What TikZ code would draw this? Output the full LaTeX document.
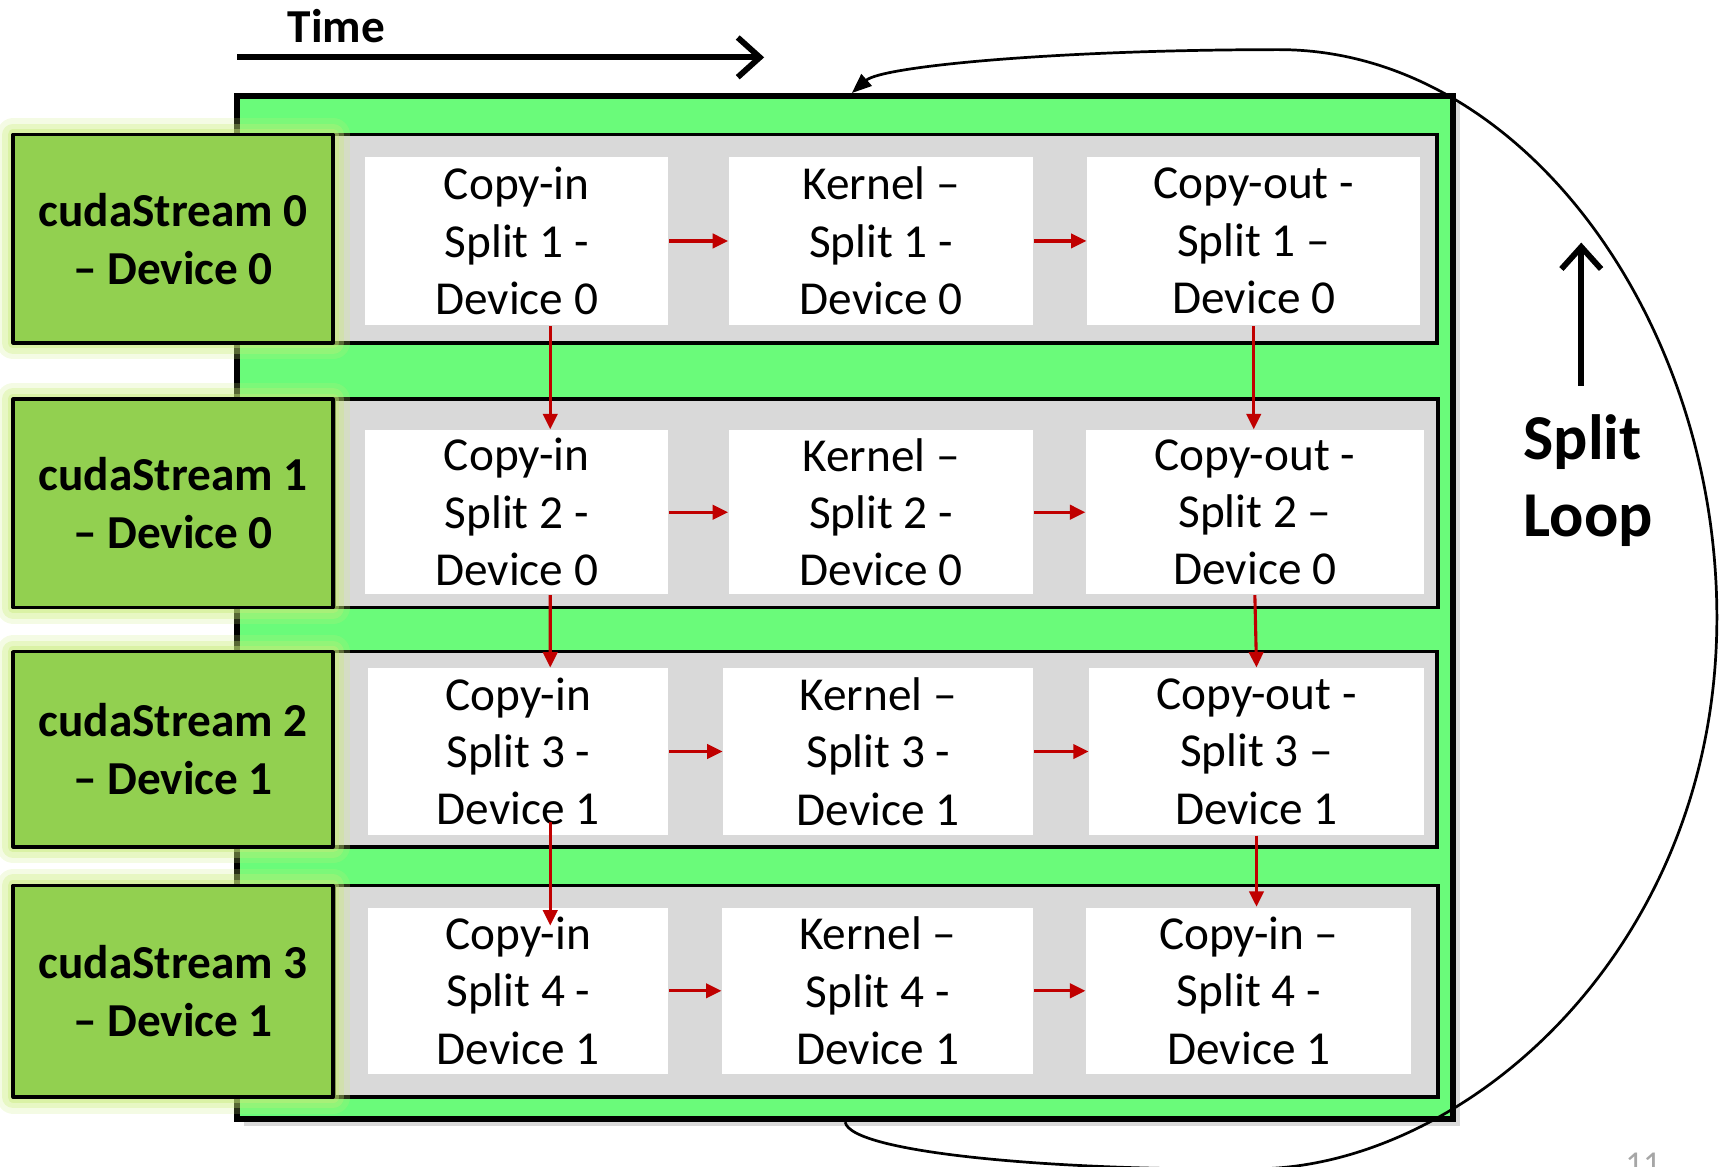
\documentclass[tikz,border=0pt]{standalone}
\usepackage{fontspec}
\setmainfont{Carlito}
\usepackage{tikz}
\usetikzlibrary{arrows.meta,positioning,shadows}
\definecolor{framegreen}{RGB}{106,251,122}
\definecolor{streamgreen}{RGB}{146,208,80}
\definecolor{glowgreen}{RGB}{200,236,120}
\definecolor{lanegray}{RGB}{217,217,217}
\definecolor{deparrow}{RGB}{192,0,0}

\begin{document}
\begin{tikzpicture}[
  frame/.style={draw, line width=1.5pt, fill=framegreen, minimum width=11.03cm, minimum height=9.28cm, inner sep=0pt,
    drop shadow={shadow xshift=0.6mm, shadow yshift=-0.6mm, opacity=0.3}},
  lane/.style={draw, line width=0.9pt, fill=lanegray, minimum width=10.01cm, inner sep=0pt},
  stream/.style={draw, line width=0.9pt, fill=streamgreen, minimum width=2.90cm, inner sep=0pt, align=center,
    font=\fontsize{12.2}{15}\selectfont\bfseries, line join=round,
    preaction={draw=glowgreen, line width=3.0mm, opacity=0.2},
    preaction={draw=glowgreen, line width=2.0mm, opacity=0.3},
    preaction={draw=glowgreen, line width=1.0mm, opacity=0.4}},
  task/.style={fill=white, inner sep=0pt, align=center, font=\fontsize{12.2}{14.8}\selectfont},
  dep/.style={-{Triangle[length=1.4mm, width=1.3mm]}, deparrow, line width=0.8pt},
  bigarrow/.style={-{Straight Barb[length=2mm, width=3.6mm]}, line width=1.5pt},
]
  \useasboundingbox (0,0) rectangle (15.68,-10.58);

  \node[frame] (frame) at (7.665,-5.51) {};

  \node[lane, minimum height=1.89cm] (lane0) at (8.025,-2.165) {};
  \node[lane, minimum height=1.89cm] (lane1) at (8.035,-4.565) {};
  \node[lane, minimum height=1.77cm] (lane2) at (8.025,-6.795) {};
  \node[lane, minimum height=1.92cm] (lane3) at (8.035,-8.99) {};

  \node[task, minimum width=2.75cm, minimum height=1.53cm] (in0) at (4.685,-2.185) {Copy-in\\Split 1 -\\Device 0};
  \node[task, minimum width=2.76cm, minimum height=1.53cm] (ker0) at (7.99,-2.185) {Kernel –\\Split 1 -\\Device 0};
  \node[task, minimum width=3.02cm, minimum height=1.53cm] (out0) at (11.37,-2.185) {Copy-out -\\Split 1 –\\Device 0};

  \node[task, minimum width=2.75cm, minimum height=1.49cm] (in1) at (4.685,-4.645) {Copy-in\\Split 2 -\\Device 0};
  \node[task, minimum width=2.76cm, minimum height=1.49cm] (ker1) at (7.99,-4.645) {Kernel –\\Split 2 -\\Device 0};
  \node[task, minimum width=3.06cm, minimum height=1.49cm] (out1) at (11.38,-4.645) {Copy-out -\\Split 2 –\\Device 0};

  \node[task, minimum width=2.72cm, minimum height=1.51cm] (in2) at (4.70,-6.815) {Copy-in\\Split 3 -\\Device 1};
  \node[task, minimum width=2.81cm, minimum height=1.51cm] (ker2) at (7.965,-6.815) {Kernel –\\Split 3 -\\Device 1};
  \node[task, minimum width=3.03cm, minimum height=1.51cm] (out2) at (11.395,-6.815) {Copy-out -\\Split 3 –\\Device 1};

  \node[task, minimum width=2.72cm, minimum height=1.51cm] (in3) at (4.70,-8.985) {Copy-in\\Split 4 -\\Device 1};
  \node[task, minimum width=2.82cm, minimum height=1.51cm] (ker3) at (7.96,-8.985) {Kernel –\\Split 4 -\\Device 1};
  \node[task, minimum width=2.95cm, minimum height=1.51cm] (out3) at (11.325,-8.985) {Copy-in –\\Split 4 -\\Device 1};

  \node[stream, minimum height=1.89cm] (s0) at (1.57,-2.165) {cudaStream 0\\– Device 0};
  \node[stream, minimum height=1.89cm] (s1) at (1.57,-4.565) {cudaStream 1\\– Device 0};
  \node[stream, minimum height=1.77cm] (s2) at (1.57,-6.795) {cudaStream 2\\– Device 1};
  \node[stream, minimum height=1.92cm] (s3) at (1.57,-8.99) {cudaStream 3\\– Device 1};

  \draw[dep] (in0) -- (ker0);
  \draw[dep] (ker0) -- (out0);
  \draw[dep] (in1) -- (ker1);
  \draw[dep] (ker1) -- (out1);
  \draw[dep] (in2) -- (ker2);
  \draw[dep] (ker2) -- (out2);
  \draw[dep] (in3) -- (ker3);
  \draw[dep] (ker3) -- (out3);

  \draw[dep] ([xshift=3.05mm]in0.south) -- ([xshift=3.05mm]in1.north);
  \draw[dep] ([xshift=3.05mm]in1.south) -- ([xshift=2.9mm]in2.north);
  \draw[dep] ([xshift=2.9mm, yshift=1.2mm]in2.south) -- ([xshift=2.9mm, yshift=-1.7mm]in3.north);
  \draw[dep] (out0.south) -- (out0.south |- out1.north);
  \draw[dep] (out1.south) -- (out2.north);
  \draw[dep] (out2.south) -- (out2.south |- out3.north);

  \draw[line width=0.7pt, -{Triangle[length=1.8mm, width=1.4mm]}] (frame.south)
    .. controls +(0.05,-0.28) and (9.6,-10.62) .. (11.4,-10.6)
    .. controls (13.3,-10.58) and (15.57,-8.6) .. (15.57,-5.6)
    .. controls (15.57,-2.9) and (13.8,-0.45) .. (11.6,-0.45)
    .. controls (9.6,-0.45) and (8.0,-0.6) .. ([xshift=0.6mm]frame.north);

  \node[font=\fontsize{12.2}{15}\selectfont\bfseries] (time) at (3.05,-0.235) {Time};
  \coordinate (t0) at (2.15,-0.52);
  \coordinate (t1) at (6.93,-0.52);
  \draw[bigarrow] (t0) -- (t1);

  \node[font=\fontsize{16.5}{20}\selectfont\bfseries, align=left, anchor=west, inner sep=0pt] (loop) at (13.81,-4.36) {Split\\Loop};
  \coordinate (u0) at (14.34,-3.50);
  \coordinate (u1) at (14.34,-2.20);
  \draw[bigarrow] (u0) -- (u1);

  \node[text=gray!70, font=\fontsize{9}{10}\selectfont, anchor=base] (pnum) at (14.90,-10.66) {11};
\end{tikzpicture}
\end{document}
